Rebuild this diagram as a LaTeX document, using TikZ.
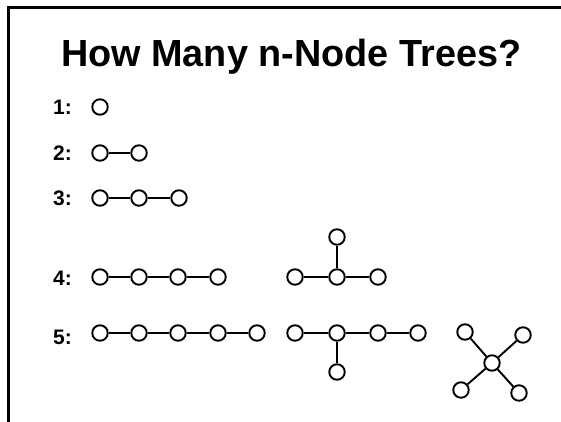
\documentclass[tikz,border=0pt]{standalone}
\usepackage{fontspec}
\setmainfont{Liberation Sans}
\begin{document}
\begin{tikzpicture}[x=1pt,y=-1pt,
  vtx/.style={circle,draw=black,line width=1.9pt,minimum size=15.5pt,inner sep=0pt,fill=white},
  edge/.style={line width=1.9pt},
  rowlabel/.style={anchor=west,inner sep=0pt,font=\fontsize{21}{21}\selectfont\bfseries},
  frameline/.style={line width=2.6pt}]
\useasboundingbox (0,0) rectangle (561,422);
\fill[white] (0,0) rectangle (561,422);

% slide frame (left and top edges only)
\coordinate (fbl) at (8.5,430);
\coordinate (ftl) at (8.5,7.5);
\coordinate (ftr) at (570,7.5);
\draw[frameline] (fbl) -- (ftl) -- (ftr);

% title
\node[anchor=base west,inner sep=0pt,font=\fontsize{37.8}{37.8}\selectfont\bfseries] (title) at (61,67) {How Many n-Node Trees?};

% row labels
\node[rowlabel] (l1) at (53,107) {1:};
\node[rowlabel] (l2) at (53,153) {2:};
\node[rowlabel] (l3) at (53,198) {3:};
\node[rowlabel] (l4) at (53,278) {4:};
\node[rowlabel] (l5) at (53,337) {5:};

% n = 1
\node[vtx] (a1) at (100,107) {};

% n = 2
\node[vtx] (b1) at (100,153) {};
\node[vtx] (b2) at (139,153) {};
\draw[edge] (b1) -- (b2);

% n = 3
\node[vtx] (c1) at (100,198) {};
\node[vtx] (c2) at (139,198) {};
\node[vtx] (c3) at (179,198) {};
\draw[edge] (c1) -- (c2) -- (c3);

% n = 4: path
\node[vtx] (d1) at (100,277) {};
\node[vtx] (d2) at (139,277) {};
\node[vtx] (d3) at (178,277) {};
\node[vtx] (d4) at (218,277) {};
\draw[edge] (d1) -- (d2) -- (d3) -- (d4);

% n = 4: star
\node[vtx] (e1) at (295,277) {};
\node[vtx] (e2) at (337,277) {};
\node[vtx] (e3) at (378,277) {};
\node[vtx] (e4) at (337,237) {};
\draw[edge] (e1) -- (e2) -- (e3);
\draw[edge] (e2) -- (e4);

% n = 5: path
\node[vtx] (f1) at (100,333) {};
\node[vtx] (f2) at (139,333) {};
\node[vtx] (f3) at (178,333) {};
\node[vtx] (f4) at (218,333) {};
\node[vtx] (f5) at (257,333) {};
\draw[edge] (f1) -- (f2) -- (f3) -- (f4) -- (f5);

% n = 5: branched
\node[vtx] (g1) at (295,333) {};
\node[vtx] (g2) at (337,333) {};
\node[vtx] (g3) at (378,333) {};
\node[vtx] (g4) at (418,333) {};
\node[vtx] (g5) at (337,372) {};
\draw[edge] (g1) -- (g2) -- (g3) -- (g4);
\draw[edge] (g2) -- (g5);

% n = 5: star
\node[vtx] (h0) at (492,363) {};
\node[vtx] (h1) at (465,332) {};
\node[vtx] (h2) at (523,335) {};
\node[vtx] (h3) at (461,390) {};
\node[vtx] (h4) at (519,393) {};
\draw[edge] (h0) -- (h1);
\draw[edge] (h0) -- (h2);
\draw[edge] (h0) -- (h3);
\draw[edge] (h0) -- (h4);
\end{tikzpicture}
\end{document}
